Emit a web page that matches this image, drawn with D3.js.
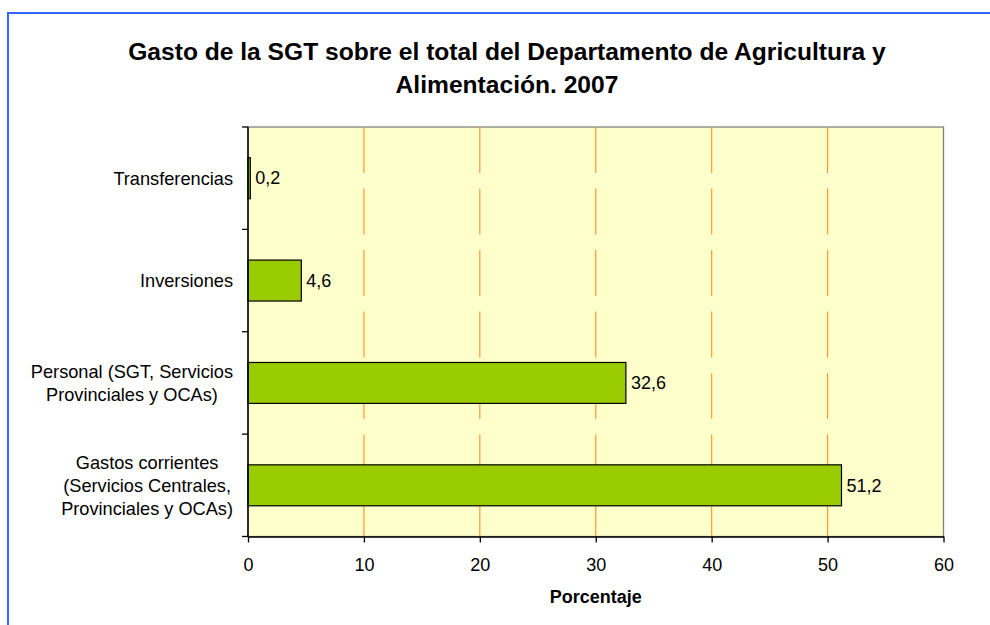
<!DOCTYPE html>
<html>
<head>
<meta charset="utf-8">
<script src="https://cdn.jsdelivr.net/npm/d3@7"></script>
<style>
  html, body { margin: 0; padding: 0; background: #fff; }
  svg { display: block; font-family: "Liberation Sans", Arial, sans-serif; }
</style>
</head>
<body>
<svg id="chart" width="990" height="625"></svg>
<script>
// Datos (de arriba a abajo)
const categorias = [
    ["Transferencias"],
    ["Inversiones"],
    ["Personal (SGT, Servicios", "Provinciales y OCAs)"],
    ["Gastos corrientes", "(Servicios Centrales,", "Provinciales y OCAs)"]
];
const valores = [0.2, 4.6, 32.6, 51.2];
const etiquetas = ["0,2", "4,6", "32,6", "51,2"];
const ticksX = [0, 10, 20, 30, 40, 50, 60];
const titulo = ["Gasto de la SGT sobre el total del Departamento de Agricultura y", "Alimentación. 2007"];
const tituloEje = "Porcentaje";

const svg = d3.select("#chart");

// Marco azul
svg.append("rect")
    .attr("x", 8).attr("y", 13)
    .attr("width", 1000).attr("height", 700)
    .attr("fill", "#fff")
    .attr("stroke", "#3366ff")
    .attr("stroke-width", 2);

// Título
svg.append("g").selectAll("text")
    .data(titulo)
    .join("text")
    .attr("x", 507)
    .attr("y", (d, i) => 60 + i * 33)
    .attr("text-anchor", "middle")
    .style("font-size", "24.6px")
    .style("font-weight", "bold")
    .text(d => d);

const pLeft = 248, pRight = 943.5, pTop = 127, pBottom = 536.5;

const x = d3.scaleLinear().domain([0, 60]).range([pLeft, pRight]);
const idx = d3.range(categorias.length);
const y = d3.scaleBand().domain(idx).range([pTop, pBottom])
    .paddingInner(0.6).paddingOuter(0.3);

// Fondo del área de trazado
svg.append("rect")
    .attr("x", pLeft).attr("y", pTop)
    .attr("width", pRight - pLeft).attr("height", pBottom - pTop)
    .attr("fill", "#ffffcc")
    .attr("stroke", "#808080")
    .attr("stroke-width", 1.3);

// Líneas de división
svg.append("g").selectAll("line")
    .data(ticksX.filter(t => t > 0 && t < 60))
    .join("line")
    .attr("x1", d => x(d)).attr("x2", d => x(d))
    .attr("y1", pTop).attr("y2", pBottom)
    .attr("stroke", "#ff9933")
    .attr("stroke-width", 1.2)
    .attr("stroke-dasharray", "46,15.5");

// Barras
svg.append("g").selectAll("rect")
    .data(valores)
    .join("rect")
    .attr("x", x(0))
    .attr("y", (d, i) => y(i))
    .attr("width", d => x(d) - x(0))
    .attr("height", y.bandwidth())
    .attr("fill", "#99cc00")
    .attr("stroke", "#000")
    .attr("stroke-width", 1.2);

// Etiquetas de datos
svg.append("g").selectAll("text")
    .data(valores)
    .join("text")
    .attr("x", d => x(d) + 5)
    .attr("y", (d, i) => y(i) + y.bandwidth() / 2)
    .attr("dy", "0.35em")
    .style("font-size", "18px")
    .text((d, i) => etiquetas[i]);

// Eje X
const ejeX = svg.append("g")
    .attr("transform", `translate(0,${pBottom})`)
    .call(d3.axisBottom(x).tickValues(ticksX).tickSize(6).tickSizeOuter(0).tickPadding(16).tickFormat(d3.format("d")));
ejeX.select(".domain").attr("stroke", "#000").attr("stroke-width", 1.5);
ejeX.selectAll(".tick line").attr("stroke", "#000").attr("stroke-width", 1.3);
ejeX.selectAll("text").style("font-size", "18px").attr("fill", "#000")
    .style("font-family", "'Liberation Sans', Arial, sans-serif");

// Eje Y
svg.append("line")
    .attr("x1", pLeft).attr("x2", pLeft)
    .attr("y1", pTop).attr("y2", pBottom)
    .attr("stroke", "#000").attr("stroke-width", 1.5);
const limites = idx.map(i => y(i) - y.step() * y.paddingInner() / 2).concat([pBottom]);
limites[0] = pTop;
svg.append("g").selectAll("line")
    .data(limites)
    .join("line")
    .attr("x1", pLeft - 6).attr("x2", pLeft)
    .attr("y1", d => d).attr("y2", d => d)
    .attr("stroke", "#000").attr("stroke-width", 1.3);

// Etiquetas de categoría (bloque centrado, borde derecho junto al eje)
const grupoCat = svg.append("g");
categorias.forEach((lineas, i) => {
    const g = grupoCat.append("g");
    const lh = 23;
    const cy = y(i) + y.bandwidth() / 2;
    const t = g.selectAll("text")
        .data(lineas)
        .join("text")
        .attr("y", (d, j) => cy + (j - (lineas.length - 1) / 2) * lh)
        .attr("dy", "0.35em")
        .attr("text-anchor", "middle")
        .style("font-size", "18.2px")
        .text(d => d);
    let maxW = 0;
    t.each(function() { maxW = Math.max(maxW, this.getComputedTextLength()); });
    t.attr("x", 233 - maxW / 2);
});

// Título del eje
svg.append("text")
    .attr("x", (pLeft + pRight) / 2)
    .attr("y", 603)
    .attr("text-anchor", "middle")
    .style("font-size", "18px")
    .style("font-weight", "bold")
    .text(tituloEje);
</script>
</body>
</html>
